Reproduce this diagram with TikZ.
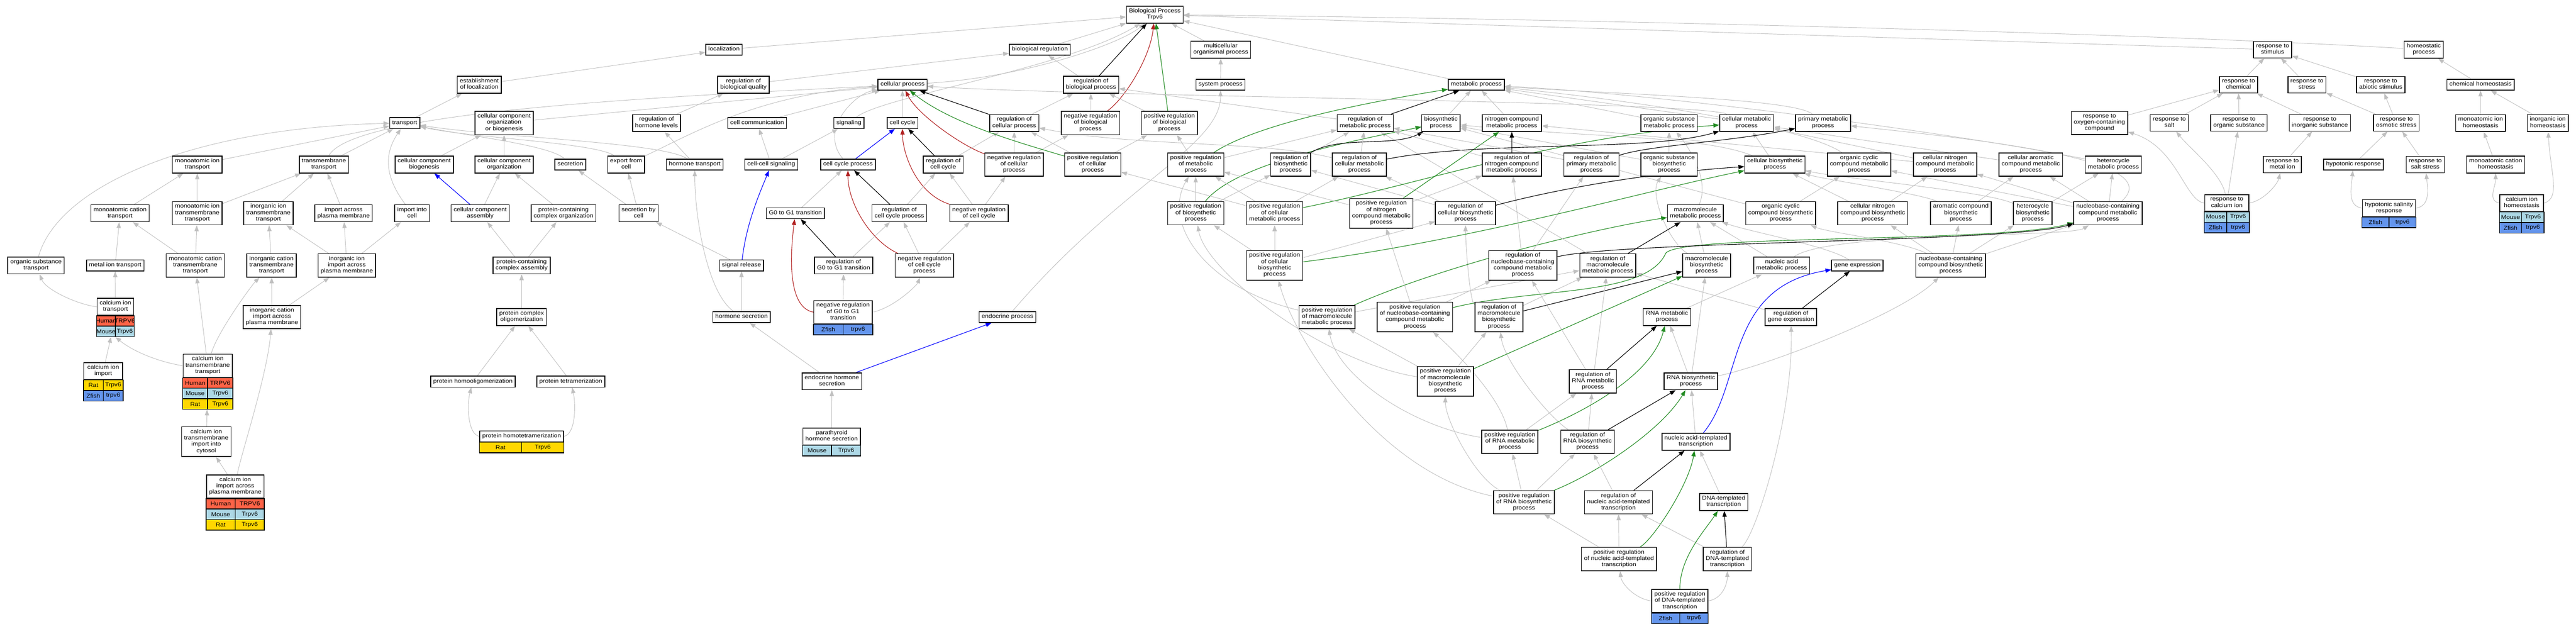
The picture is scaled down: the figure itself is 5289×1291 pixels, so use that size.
\documentclass[tikz,border=0pt]{standalone}
\usepackage{fontspec}
\newfontfamily\gofont{Liberation Sans}[FakeStretch=1.11]
\usetikzlibrary{calc,fit,arrows.meta}
\pgfdeclarelayer{edge layer}
\pgfsetlayers{edge layer,main}
\definecolor{human}{HTML}{FF6347}
\definecolor{mouse}{HTML}{ADD8E6}
\definecolor{rat}{HTML}{FFD700}
\definecolor{zfish}{HTML}{6495ED}
\definecolor{edgegray}{HTML}{C0C0C0}
\definecolor{negred}{HTML}{B22222}
\definecolor{posgreen}{HTML}{228B22}
\tikzset{
  term/.style={draw=black,line width=0.8pt,fill=white,align=center,inner xsep=2.6pt,inner ysep=2.35pt,
    font=\gofont\fontsize{5.85}{6.5}\selectfont,execute at begin node=\strut,execute at end node=\strut},
  genecell/.style={draw=black,line width=0.8pt},
  genetext/.style={inner sep=0pt,font=\gofont\fontsize{5.85}{6.5}\selectfont},
  isa/.style={draw=edgegray,line width=0.5pt,-{Triangle[length=6pt,width=4.4pt]}},
  regulates/.style={isa,draw=black,line width=0.6pt},
  negregulates/.style={isa,draw=negred,line width=0.6pt},
  posregulates/.style={isa,draw=posgreen,line width=0.6pt},
  partof/.style={isa,draw=blue,line width=0.6pt}
}
\newcommand{\genetable}[2]{%
  \foreach \spname/\gname/\cname [count=\rowno] in {#2}{%
    \draw[genecell,fill=\cname] ($(#1.south west)+(0,{(\rowno-1)*21.6})$) rectangle ($(#1.south)+(0,{\rowno*21.6})$);
    \draw[genecell,fill=\cname] ($(#1.south)+(0,{(\rowno-1)*21.6})$) rectangle ($(#1.south east)+(0,{\rowno*21.6})$);
    \node[genetext] (#1-sp\rowno) at ($(#1.south west)!0.5!(#1.south)+(0,{(\rowno-0.5)*21.6})$) {\spname};
    \node[genetext] (#1-gn\rowno) at ($(#1.south)!0.5!(#1.south east)+(0,{(\rowno-0.5)*21.6})$) {\gname};
    \coordinate (#1-end) at ($(#1.south east)+(0,{\rowno*21.6})$);
  }%
  \node[fit=(#1) (#1-end),inner sep=0pt] (#1-all) {};
}
\begin{document}
\begin{tikzpicture}[x=0.5pt,y=-0.5pt]
\useasboundingbox (0,0) rectangle (5289,1291);
\node[term] (bp) at (2371,30) {Biological Process\\Trpv6};
\node[term] (loc) at (1486.5,102) {localization};
\node[term] (breg) at (2135,102) {biological regulation};
\node[term] (mop) at (2506.5,102) {multicellular\\organismal process};
\node[term] (rstim) at (4666,102) {response to\\stimulus};
\node[term] (homeo) at (4976.5,102) {homeostatic\\process};
\node[term] (estloc) at (984,174) {establishment\\of localization};
\node[term] (rbq) at (1526.5,174) {regulation of\\biological quality};
\node[term] (cp) at (1853,174) {cellular process};
\node[term] (rbp) at (2240,174) {regulation of\\biological process};
\node[term] (sysp) at (2506,174) {system process};
\node[term] (mp) at (3031,174) {metabolic process};
\node[term] (rchem) at (4596,174) {response to\\chemical};
\node[term] (rstress) at (4736.5,174) {response to\\stress};
\node[term] (rabio) at (4888,174) {response to\\abiotic stimulus};
\node[term] (chomeo) at (5093,174) {chemical homeostasis};
\node[term] (transport) at (831,252.5) {transport};
\node[term] (ccob) at (1035,252.5) {cellular component\\organization\\or biogenesis};
\node[term] (rhl) at (1348,252.5) {regulation of\\hormone levels};
\node[term] (ccomm) at (1554.5,252.5) {cell communication};
\node[term] (sig) at (1743,252.5) {signaling};
\node[term] (cc) at (1853,252.5) {cell cycle};
\node[term] (rcp) at (2082.5,252.5) {regulation of\\cellular process};
\node[term] (nrbp) at (2239,252.5) {negative regulation\\of biological\\process};
\node[term] (prbp) at (2401,252.5) {positive regulation\\of biological\\process};
\node[term] (rmp) at (2803,252.5) {regulation of\\metabolic process};
\node[term] (bsp) at (2958.5,252.5) {biosynthetic\\process};
\node[term] (ncmp) at (3104,252.5) {nitrogen compound\\metabolic process};
\node[term] (osmp) at (3427,252.5) {organic substance\\metabolic process};
\node[term] (cmp) at (3586,252.5) {cellular metabolic\\process};
\node[term] (pmp) at (3743,252.5) {primary metabolic\\process};
\node[term] (roxy) at (4310.5,252.5) {response to\\oxygen-containing\\compound};
\node[term] (rsalt) at (4454,252.5) {response to\\salt};
\node[term] (rorg) at (4597,252.5) {response to\\organic substance};
\node[term] (rinorg) at (4763,252.5) {response to\\inorganic substance};
\node[term] (rosm) at (4920,252.5) {response to\\osmotic stress};
\node[term] (mihomeo) at (5093,252.5) {monoatomic ion\\homeostasis};
\node[term] (iihomeo) at (5231,252.5) {inorganic ion\\homeostasis};
\node[term] (mit) at (405,338) {monoatomic ion\\transport};
\node[term] (tmt) at (665,338) {transmembrane\\transport};
\node[term] (ccb) at (871,338) {cellular component\\biogenesis};
\node[term] (cco) at (1035,338) {cellular component\\organization};
\node[term] (secr) at (1171,338) {secretion};
\node[term] (efc) at (1285.5,338) {export from\\cell};
\node[term] (ht) at (1426.5,338) {hormone transport};
\node[term] (ccs) at (1583.5,338) {cell-cell signaling};
\node[term] (ccp) at (1741,338) {cell cycle process};
\node[term] (rcc) at (1936.5,338) {regulation of\\cell cycle};
\node[term] (nrcp) at (2082,338) {negative regulation\\of cellular\\process};
\node[term] (prcp) at (2243.5,338) {positive regulation\\of cellular\\process};
\node[term] (prmp) at (2455,338) {positive regulation\\of metabolic\\process};
\node[term] (rbsp) at (2650,338) {regulation of\\biosynthetic\\process};
\node[term] (rcmp) at (2791,338) {regulation of\\cellular metabolic\\process};
\node[term] (rncmp) at (3104,338) {regulation of\\nitrogen compound\\metabolic process};
\node[term] (rpmp) at (3267.5,338) {regulation of\\primary metabolic\\process};
\node[term] (osbp) at (3427,338) {organic substance\\biosynthetic\\process};
\node[term] (cbp) at (3644,338) {cellular biosynthetic\\process};
\node[term] (occmp) at (3817,338) {organic cyclic\\compound metabolic\\process};
\node[term] (cncmp) at (3993.5,338) {cellular nitrogen\\compound metabolic\\process};
\node[term] (cacmp) at (4169.5,338) {cellular aromatic\\compound metabolic\\process};
\node[term] (hcmp) at (4339,338) {heterocycle\\metabolic process};
\node[term] (rmetal) at (4686,338) {response to\\metal ion};
\node[term] (hypo) at (4832,338) {hypotonic response};
\node[term] (rsaltst) at (4979.5,338) {response to\\salt stress};
\node[term] (mchomeo) at (5124,338) {monoatomic cation\\homeostasis};
\node[term] (mct) at (246.5,438) {monoatomic cation\\transport};
\node[term] (mitt) at (405,438) {monoatomic ion\\transmembrane\\transport};
\node[term] (iitt) at (551,438) {inorganic ion\\transmembrane\\transport};
\node[term] (iapm) at (705.5,438) {import across\\plasma membrane};
\node[term] (iic) at (846,438) {import into\\cell};
\node[term] (cca) at (986,438) {cellular component\\assembly};
\node[term] (pcco) at (1157,438) {protein-containing\\complex organization};
\node[term] (sbc) at (1311,438) {secretion by\\cell};
\node[term] (g0g1) at (1633,438) {G0 to G1 transition};
\node[term] (rccp) at (1846.5,438) {regulation of\\cell cycle process};
\node[term] (nrcc) at (2010,438) {negative regulation\\of cell cycle};
\node[term] (prbsp) at (2455,438) {positive regulation\\of biosynthetic\\process};
\node[term] (prcmp) at (2617,438) {positive regulation\\of cellular\\metabolic process};
\node[term] (prncmp) at (2836,438) {positive regulation\\of nitrogen\\compound metabolic\\process};
\node[term] (rcbp) at (3009,438) {regulation of\\cellular biosynthetic\\process};
\node[term] (mmp) at (3481,438) {macromolecule\\metabolic process};
\node[term] (occbp) at (3656,438) {organic cyclic\\compound biosynthetic\\process};
\node[term] (cncbp) at (3845,438) {cellular nitrogen\\compound biosynthetic\\process};
\node[term] (acbp) at (4026,438) {aromatic compound\\biosynthetic\\process};
\node[term] (hcbp) at (4173.5,438) {heterocycle\\biosynthetic\\process};
\node[term] (nbcmp) at (4328,438) {nucleobase-containing\\compound metabolic\\process};
\node[term] (ost) at (74,545) {organic substance\\transport};
\node[term] (mett) at (236.5,545) {metal ion transport};
\node[term] (mctt) at (401,545) {monoatomic cation\\transmembrane\\transport};
\node[term] (ictt) at (557.5,545) {inorganic cation\\transmembrane\\transport};
\node[term] (iiapm) at (712,545) {inorganic ion\\import across\\plasma membrane};
\node[term] (pcca) at (1071,545) {protein-containing\\complex assembly};
\node[term] (sr) at (1522.5,545) {signal release};
\node[term] (rg0g1) at (1732,545) {regulation of\\G0 to G1 transition};
\node[term] (nrccp) at (1898,545) {negative regulation\\of cell cycle\\process};
\node[term] (prcbp) at (2617,545) {positive regulation\\of cellular\\biosynthetic\\process};
\node[term] (rnbcmp) at (3126.5,545) {regulation of\\nucleobase-containing\\compound metabolic\\process};
\node[term] (rmmp) at (3301,545) {regulation of\\macromolecule\\metabolic process};
\node[term] (mmbp) at (3504,545) {macromolecule\\biosynthetic\\process};
\node[term] (namp) at (3658,545) {nucleic acid\\metabolic process};
\node[term] (ge) at (3813.5,545) {gene expression};
\node[term] (nbcbp) at (4005,545) {nucleobase-containing\\compound biosynthetic\\process};
\node[term] (icapm) at (558.5,651) {inorganic cation\\import across\\plasma membrane};
\node[term] (pco) at (1071,651) {protein complex\\oligomerization};
\node[term] (hs) at (1522.5,651) {hormone secretion};
\node[term] (endo) at (2068.5,651) {endocrine process};
\node[term] (prmmp) at (2724.5,651) {positive regulation\\of macromolecule\\metabolic process};
\node[term] (prnbcmp) at (2905,651) {positive regulation\\of nucleobase-containing\\compound metabolic\\process};
\node[term] (rmmbp) at (3077.5,651) {regulation of\\macromolecule\\biosynthetic\\process};
\node[term] (rnamp) at (3422.5,651) {RNA metabolic\\process};
\node[term] (rge) at (3677,651) {regulation of\\gene expression};
\node[term] (phomo) at (971,783.5) {protein homooligomerization};
\node[term] (ptetra) at (1172,783.5) {protein tetramerization};
\node[term] (ehs) at (1708,783) {endocrine hormone\\secretion};
\node[term] (prmmbp) at (2967.5,783) {positive regulation\\of macromolecule\\biosynthetic\\process};
\node[term] (rrnamp) at (3270.5,783) {regulation of\\RNA metabolic\\process};
\node[term] (rnabp) at (3471.5,783) {RNA biosynthetic\\process};
\node[term] (cattic) at (423.5,907) {calcium ion\\transmembrane\\import into\\cytosol};
\node[term] (prrnamp) at (3100,907) {positive regulation\\of RNA metabolic\\process};
\node[term] (rrnabp) at (3259.5,907) {regulation of\\RNA biosynthetic\\process};
\node[term] (natt) at (3482,907) {nucleic acid-templated\\transcription};
\node[term] (prrnabp) at (3129,1031.5) {positive regulation\\of RNA biosynthetic\\process};
\node[term] (rnatt) at (3323,1031.5) {regulation of\\nucleic acid-templated\\transcription};
\node[term] (dtt) at (3539,1031) {DNA-templated\\transcription};
\node[term] (prnatt) at (3324,1148) {positive regulation\\of nucleic acid-templated\\transcription};
\node[term] (rdtt) at (3546.5,1148) {regulation of\\DNA-templated\\transcription};
\node[term] (cait) at (237,630) {calcium ion\\transport};
\genetable{cait}{Human/TRPV6/human,Mouse/Trpv6/mouse}
\node[term,minimum width=40pt] (caimp) at (212,762) {calcium ion\\import};
\genetable{caimp}{Rat/Trpv6/rat,Zfish/trpv6/zfish}
\node[term] (catt) at (426.5,751) {calcium ion\\transmembrane\\transport};
\genetable{catt}{Human/TRPV6/human,Mouse/Trpv6/mouse,Rat/Trpv6/rat}
\node[term] (caiapm) at (483,999) {calcium ion\\import across\\plasma membrane};
\genetable{caiapm}{Human/TRPV6/human,Mouse/Trpv6/mouse,Rat/Trpv6/rat}
\node[term] (phtetra) at (1071,896) {protein homotetramerization};
\genetable{phtetra}{Rat/Trpv6/rat}
\node[term] (pths) at (1707.5,896.5) {parathyroid\\hormone secretion};
\genetable{pths}{Mouse/Trpv6/mouse}
\node[term] (nrg0g1) at (1731,641) {negative regulation\\of G0 to G1\\transition};
\genetable{nrg0g1}{Zfish/trpv6/zfish}
\node[term,minimum width=45.35pt] (rcai) at (4572,417) {response to\\calcium ion};
\genetable{rcai}{Mouse/Trpv6/mouse,Zfish/trpv6/zfish}
\node[term] (hsr) at (4905,427.5) {hypotonic salinity\\response};
\genetable{hsr}{Zfish/trpv6/zfish}
\node[term,minimum width=45pt] (caho) at (5177.5,417) {calcium ion\\homeostasis};
\genetable{caho}{Mouse/Trpv6/mouse,Zfish/trpv6/zfish}
\node[term] (prdtt) at (3449,1234) {positive regulation\\of DNA-templated\\transcription};
\genetable{prdtt}{Zfish/trpv6/zfish}
\begin{pgfonlayer}{edge layer}
% transport
\draw[isa] (transport) -- (estloc);
\draw[isa] (estloc) -- (loc);
\draw[isa] (loc) -- (bp);
\draw[isa] (mit) -- (transport);
\draw[isa] (tmt) -- (transport);
\draw[isa] (iic) .. controls +(-60,-80) and +(-40,60) .. (transport);
\draw[isa] (ost) .. controls (120,380) and (400,262) .. (transport);
\draw[isa] (secr) .. controls +(-40,-40) and +(120,25) .. (transport);
\draw[isa] (efc) .. controls +(-60,-45) and +(130,30) .. (transport);
\draw[isa] (ht) .. controls +(-60,-45) and +(200,30) .. (transport);
\draw[isa] (efc) .. controls +(130,-60) and +(-300,20) .. (cp);
\draw[isa] (tmt) .. controls +(60,-110) and +(-500,25) .. (cp);
\draw[isa] (ccob) -- (cp);
\draw[isa] (ccomm) -- (cp);
\draw[isa] (ccp) .. controls +(-60,-70) and +(-100,20) .. (cp);
\draw[isa] (cc) -- (cp);
\draw[isa] (cp) .. controls +(250,-15) and +(-70,60) .. (bp);
\draw[isa] (sig) .. controls +(70,-55) and +(-180,110) .. (bp);
\draw[isa] (mct) -- (mit);
\draw[isa] (mitt) -- (mit);
\draw[isa] (mitt) -- (tmt);
\draw[isa] (iitt) -- (tmt);
\draw[isa] (iapm) -- (tmt);
\draw[isa] (mett) -- (mct);
\draw[isa] (mctt) -- (mct);
\draw[isa] (mctt) -- (mitt);
\draw[isa] (ictt) -- (iitt);
\draw[isa] (iiapm) -- (iitt);
\draw[isa] (iiapm) -- (iapm);
\draw[isa] (iiapm) -- (iic);
\draw[isa] (icapm) -- (ictt);
\draw[isa] (icapm) -- (iiapm);
\draw[isa] (cait) -- (mett);
\draw[isa] (cait.west) .. controls +(-40,-5) and +(20,50) .. (ost);
\draw[isa] (caimp) -- (cait-all);
\draw[isa] (catt.west) .. controls +(-60,-10) and +(30,25) .. (cait-all.south);
\draw[isa] (catt) -- (mctt);
\draw[isa] (catt) .. controls +(20,-70) and +(-40,40) .. (ictt);
\draw[isa] (cattic) -- (catt-all);
\draw[isa] (caiapm) -- (cattic);
\draw[isa] (caiapm) .. controls +(10,-60) and +(-10,120) .. (icapm);
% cellular component
\draw[isa] (ccb) -- (ccob);
\draw[isa] (cco) -- (ccob);
\draw[partof] (cca) -- (ccb);
\draw[isa] (cca) -- (cco);
\draw[isa] (pcco) -- (cco);
\draw[isa] (pcca) -- (cca);
\draw[isa] (pcca) -- (pcco);
\draw[isa] (pco) -- (pcca);
\draw[isa] (phomo) -- (pco);
\draw[isa] (ptetra) -- (pco);
\draw[isa] (phtetra.west) .. controls +(-25,-5) and +(-12,45) .. (phomo);
\draw[isa] (phtetra.east) .. controls +(25,-5) and +(10,45) .. (ptetra);
% secretion and signaling
\draw[isa] (sbc) -- (secr);
\draw[isa] (sbc) -- (efc);
\draw[isa] (sr) -- (sbc);
\draw[partof] (sr) .. controls +(10,-90) and +(-20,50) .. (ccs);
\draw[isa] (hs) -- (sr);
\draw[isa] (hs) .. controls +(-70,-50) and +(0,110) .. (ht);
\draw[isa] (ehs) -- (hs);
\draw[partof] (ehs) -- (endo);
\draw[isa] (pths) -- (ehs);
\draw[isa] (ht) -- (rhl);
\draw[isa] (rhl) -- (rbq);
\draw[isa] (rbq) -- (breg);
\draw[isa] (ccs) -- (ccomm);
\draw[isa] (ccs) -- (sig);
% regulation and cell cycle
\draw[isa] (breg) -- (bp);
\draw[isa] (rbp) -- (breg);
\draw[regulates] (rbp) -- (bp);
\draw[isa] (nrbp) -- (rbp);
\draw[negregulates] (nrbp) .. controls +(70,-50) and +(-10,90) .. (bp);
\draw[isa] (prbp) -- (rbp);
\draw[posregulates] (prbp) -- (bp);
\draw[isa] (mop) -- (bp);
\draw[isa] (sysp) -- (mop);
\draw[isa] (endo) .. controls (2300,380) and (2506,300) .. (sysp);
\draw[isa] (rstim) -- (bp);
\draw[isa] (homeo) .. controls +(-500,-30) and +(1000,10) .. (bp);
\draw[isa] (mp) -- (bp);
\draw[partof] (ccp) -- (cc);
\draw[isa] (rcc) -- (rcp);
\draw[regulates] (rcc) -- (cc);
\draw[isa] (rcp) -- (rbp);
\draw[regulates] (rcp) -- (cp);
\draw[isa] (nrcp) -- (rcp);
\draw[isa] (nrcp) -- (nrbp);
\draw[negregulates] (nrcp) .. controls +(-110,-40) and +(30,60) .. (cp);
\draw[isa] (prcp) -- (rcp);
\draw[isa] (prcp) -- (prbp);
\draw[posregulates] (prcp) .. controls +(-150,-45) and +(100,80) .. (cp);
\draw[isa] (nrcc) -- (rcc);
\draw[isa] (nrcc) -- (nrcp);
\draw[negregulates] (nrcc) .. controls +(-130,-40) and +(0,60) .. (cc);
\draw[isa] (rccp) -- (rcc);
\draw[regulates] (rccp) -- (ccp);
\draw[isa] (nrccp) -- (rccp);
\draw[isa] (nrccp) -- (nrcc);
\draw[negregulates] (nrccp) .. controls +(-110,-50) and +(0,80) .. (ccp);
\draw[isa] (g0g1) -- (ccp);
\draw[regulates] (rg0g1) -- (g0g1);
\draw[isa] (rg0g1) -- (rccp);
\draw[isa] (nrg0g1) -- (rg0g1);
\draw[negregulates] (nrg0g1.west) .. controls +(-55,-10) and +(-10,80) .. (g0g1);
\draw[isa] (nrg0g1.east) .. controls +(45,-10) and +(-15,40) .. (nrccp);
% metabolism
\draw[isa] (rmp) -- (rbp);
\draw[regulates] (rmp) -- (mp);
\draw[isa] (prmp) -- (rmp);
\draw[isa] (prmp) -- (prbp);
\draw[posregulates] (prmp) .. controls +(120,-80) and +(-250,40) .. (mp);
\draw[isa] (bsp) -- (mp);
\draw[isa] (ncmp) -- (mp);
\draw[isa] (osmp) -- (mp);
\draw[isa] (cmp) -- (mp);
\draw[isa] (cmp) .. controls +(-100,-45) and +(400,25) .. (cp);
\draw[isa] (pmp) .. controls +(-60,-50) and +(300,20) .. (mp);
\draw[isa] (osbp) -- (osmp);
\draw[isa] (osbp) -- (bsp);
\draw[isa] (cbp) -- (cmp);
\draw[isa] (cbp) .. controls +(-150,-60) and +(300,30) .. (bsp);
\draw[isa] (occmp) .. controls +(-100,-70) and +(400,40) .. (mp);
\draw[isa] (cncmp) -- (cmp);
\draw[isa] (cncmp) -- (ncmp);
\draw[isa] (cacmp) -- (cmp);
\draw[isa] (hcmp) .. controls +(-300,-60) and +(400,20) .. (mp);
\draw[isa] (nbcmp) -- (hcmp);
\draw[isa] (nbcmp) -- (cacmp);
\draw[isa] (nbcmp) -- (cncmp);
\draw[isa] (nbcmp) -- (occmp);
\draw[isa] (nbcmp) .. controls (4450,330) and (4100,290) .. (pmp);
\draw[isa] (occbp) -- (occmp);
\draw[isa] (occbp) -- (bsp);
\draw[isa] (cncbp) -- (cncmp);
\draw[isa] (cncbp) -- (cbp);
\draw[isa] (acbp) -- (cacmp);
\draw[isa] (acbp) .. controls +(-80,-40) and +(100,30) .. (cbp);
\draw[isa] (hcbp) -- (hcmp);
\draw[isa] (hcbp) .. controls +(-90,-45) and +(150,30) .. (cbp);
\draw[isa] (nbcbp) -- (nbcmp);
\draw[isa] (nbcbp) -- (hcbp);
\draw[isa] (nbcbp) -- (acbp);
\draw[isa] (nbcbp) -- (cncbp);
\draw[isa] (nbcbp) .. controls +(-100,-50) and +(100,40) .. (occbp);
\draw[isa] (namp) .. controls +(100,-70) and +(-80,50) .. (nbcmp);
\draw[isa] (namp) -- (mmp);
\draw[isa] (ge) .. controls +(-60,-40) and +(120,40) .. (mmp);
\draw[isa] (mmbp) -- (mmp);
\draw[isa] (mmbp) .. controls +(-80,-50) and +(-40,60) .. (osbp);
\draw[isa] (mmp) .. controls +(30,-70) and +(40,50) .. (osmp);
\draw[isa] (rnamp) -- (namp);
\draw[isa] (rnabp) -- (rnamp);
\draw[isa] (rnabp) -- (mmbp);
\draw[isa] (rnabp) .. controls +(150,-30) and +(-100,100) .. (nbcbp);
\draw[isa] (natt) -- (rnabp);
\draw[partof] (natt) .. controls (3580,790) and (3540,590) .. (ge);
\draw[isa] (dtt) -- (natt);
\draw[regulates] (rge) -- (ge);
\draw[isa] (rge) -- (rmmp);
\draw[isa] (rmmbp) -- (rmmp);
\draw[isa] (rmmbp) .. controls +(-60,-30) and +(0,60) .. (rcbp);
\draw[regulates] (rmmbp) -- (mmbp);
\draw[isa] (rrnamp) -- (rnbcmp);
\draw[regulates] (rrnamp) -- (rnamp);
\draw[isa] (rrnamp) -- (rmmp);
\draw[isa] (rrnabp) -- (rrnamp);
\draw[regulates] (rrnabp) -- (rnabp);
\draw[isa] (rrnabp) .. controls +(-80,-50) and +(10,90) .. (rmmbp);
\draw[isa] (prrnamp) -- (rrnamp);
\draw[posregulates] (prrnamp) .. controls +(150,-60) and +(-30,120) .. (rnamp);
\draw[isa] (prrnamp) .. controls +(-20,-100) and +(60,50) .. (prnbcmp);
\draw[isa] (prrnamp) .. controls +(-200,-30) and +(20,120) .. (prmmp);
\draw[isa] (prrnabp) -- (prrnamp);
\draw[isa] (prrnabp) -- (rrnabp);
\draw[posregulates] (prrnabp) .. controls +(150,-60) and +(-60,100) .. (rnabp);
\draw[isa] (prrnabp) .. controls +(-100,-50) and +(0,80) .. (prmmbp);
\draw[isa] (prrnabp) .. controls +(-300,-60) and +(40,150) .. (prcbp);
\draw[isa] (prmmbp) -- (prmmp);
\draw[isa] (prmmbp) -- (rmmbp);
\draw[posregulates] (prmmbp) -- (mmbp);
\draw[isa] (prmmbp) .. controls +(-250,-40) and +(20,120) .. (prbsp);
\draw[isa] (prmmp) -- (rmmp);
\draw[isa] (prmmp) .. controls +(-250,-60) and +(-70,120) .. (prmp);
\draw[posregulates] (prmmp) .. controls +(250,-110) and +(-200,30) .. (mmp);
\draw[isa] (prnbcmp) -- (rnbcmp);
\draw[isa] (prnbcmp) -- (prncmp);
\draw[posregulates] (prnbcmp) .. controls (3150,590) and (3380,610) .. (3420,520) .. controls (3450,480) and (4100,500) .. (nbcmp);
\draw[isa] (rnbcmp) -- (rncmp);
\draw[isa] (rnbcmp) -- (rpmp);
\draw[regulates] (rnbcmp) .. controls +(200,-50) and +(-200,60) .. (nbcmp);
\draw[isa] (rmmp) -- (rmp);
\draw[regulates] (rmmp) -- (mmp);
\draw[isa] (rcbp) -- (rbsp);
\draw[isa] (rcbp) -- (rcmp);
\draw[regulates] (rcbp) .. controls +(150,-40) and +(-300,20) .. (cbp);
\draw[isa] (prcbp) -- (rcbp);
\draw[isa] (prcbp) -- (prbsp);
\draw[isa] (prcbp) -- (prcmp);
\draw[posregulates] (prcbp) .. controls +(400,-50) and +(-250,50) .. (cbp);
\draw[isa] (prbsp) -- (rbsp);
\draw[isa] (prbsp) -- (prmp);
\draw[posregulates] (prbsp) .. controls +(80,-100) and +(-200,40) .. (bsp);
\draw[isa] (prcmp) -- (rcmp);
\draw[isa] (prcmp) -- (prmp);
\draw[isa] (prcmp) -- (prcp);
\draw[posregulates] (prcmp) .. controls +(300,-60) and +(-400,30) .. (cmp);
\draw[isa] (prncmp) -- (rncmp);
\draw[isa] (prncmp) -- (prmp);
\draw[posregulates] (prncmp) -- (ncmp);
\draw[isa] (rbsp) -- (rmp);
\draw[regulates] (rbsp) .. controls +(100,-60) and +(-100,50) .. (bsp);
\draw[isa] (rcmp) -- (rmp);
\draw[isa] (rcmp) .. controls +(-200,-50) and +(250,50) .. (rcp);
\draw[regulates] (rcmp) .. controls +(250,-50) and +(-200,60) .. (cmp);
\draw[isa] (rncmp) -- (rmp);
\draw[regulates] (rncmp) -- (ncmp);
\draw[isa] (rpmp) -- (rmp);
\draw[regulates] (rpmp) .. controls +(120,-40) and +(-200,40) .. (pmp);
% transcription
\draw[isa] (rnatt) -- (rrnabp);
\draw[regulates] (rnatt) -- (natt);
\draw[isa] (prnatt) -- (prrnabp);
\draw[isa] (prnatt) -- (rnatt);
\draw[posregulates] (prnatt) .. controls +(70,-40) and +(-15,90) .. (natt);
\draw[isa] (rdtt) -- (rnatt);
\draw[regulates] (rdtt) -- (dtt);
\draw[isa] (rdtt) .. controls +(60,-50) and +(5,200) .. (rge);
\draw[isa] (prdtt.west) .. controls +(-35,-5) and +(5,50) .. (prnatt);
\draw[isa] (prdtt.east) .. controls +(30,-5) and +(0,50) .. (rdtt);
\draw[posregulates] (prdtt) .. controls +(0,-90) and +(-40,60) .. (dtt);
% response and homeostasis
\draw[isa] (rchem) -- (rstim);
\draw[isa] (rstress) -- (rstim);
\draw[isa] (rabio) -- (rstim);
\draw[isa] (chomeo) -- (homeo);
\draw[isa] (roxy) -- (rchem);
\draw[isa] (rsalt) -- (rchem);
\draw[isa] (rorg) -- (rchem);
\draw[isa] (rinorg) -- (rchem);
\draw[isa] (rosm) -- (rstress);
\draw[isa] (rosm) -- (rabio);
\draw[isa] (mihomeo) -- (chomeo);
\draw[isa] (iihomeo) -- (chomeo);
\draw[isa] (rmetal) -- (rinorg);
\draw[isa] (hypo) -- (rosm);
\draw[isa] (rsaltst) -- (rosm);
\draw[isa] (mchomeo) -- (mihomeo);
\draw[isa] (rcai.west) .. controls +(-40,-5) and +(160,50) .. (roxy);
\draw[isa] (rcai) .. controls +(-10,-60) and +(40,50) .. (rsalt);
\draw[isa] (rcai) -- (rorg);
\draw[isa] (rcai.east) .. controls +(30,-5) and +(-10,40) .. (rmetal);
\draw[isa] (hsr.west) .. controls +(-30,-5) and +(-5,50) .. (hypo);
\draw[isa] (hsr.east) .. controls +(30,-5) and +(5,50) .. (rsaltst);
\draw[isa] (caho.west) .. controls +(-25,-5) and +(0,45) .. (mchomeo);
\draw[isa] (caho.east) .. controls +(35,-10) and +(5,100) .. (iihomeo);
\end{pgfonlayer}
\end{tikzpicture}
\end{document}
